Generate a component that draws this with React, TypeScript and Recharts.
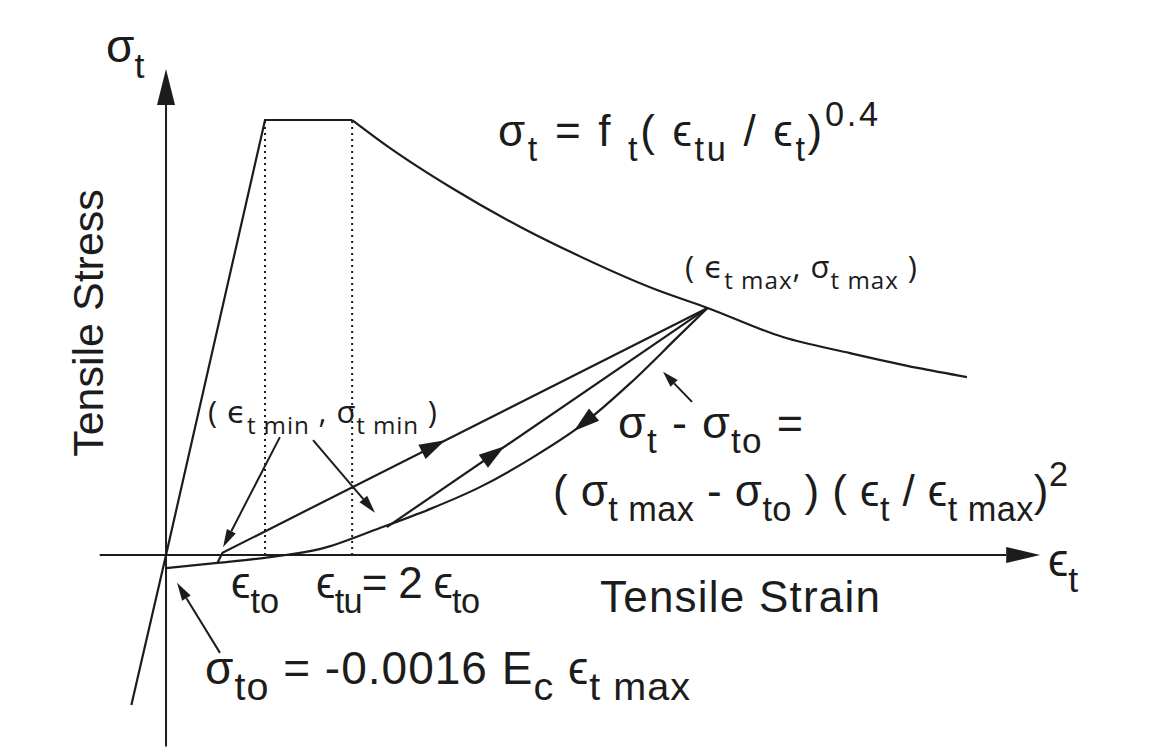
import { ComposedChart, Line, XAxis, YAxis, ReferenceLine } from "recharts"

// strain in units of eps_to, stress in units of f_t
const riseStrain = [-0.35, 0, 1.0, 1.88]
const riseStress = [-0.345, 0, 1.0, 1.0]

const decayStrain = [1.88, 2.26, 2.87, 3.58, 4.11, 4.96, 5.47, 6.23, 6.91, 7.59, 8.09]
const decayStress = [1.0, 0.936, 0.846, 0.754, 0.694, 0.609, 0.568, 0.501, 0.464, 0.43, 0.409]

const unloadStrain = [0, 0.52, 1.05, 1.56, 2.16, 2.67, 3.17, 3.68, 4.2, 4.69, 5.19, 5.47]
const unloadStress = [-0.03, -0.018, -0.005, 0.014, 0.062, 0.106, 0.156, 0.221, 0.299, 0.395, 0.506, 0.568]

const reloadStrain = [0.52, 0.57, 5.47]
const reloadStress = [-0.018, 0.005, 0.568]

const reload2Strain = [2.23, 5.47]
const reload2Stress = [0.064, 0.568]

const epsTo = 1.0
const epsTu = 1.88

const pts = (xs: number[], ys: number[]) => xs.map((x, i) => ({ x, y: ys[i] }))

const rise = pts(riseStrain, riseStress)
const decay = pts(decayStrain, decayStress)
const unload = pts(unloadStrain, unloadStress)
const reload = pts(reloadStrain, reloadStress)
const reload2 = pts(reload2Strain, reload2Stress)

const INK = "#1c1c1c"
const W = 1161
const H = 754
const SANS = "'Liberation Sans', Arial, sans-serif"
const LABEL = "'Open Sans', 'DejaVu Sans', sans-serif"

function Arrow(props: any) {
  const { x1, y1, x2, y2, head = 20, half = 6, body = true, width = 2 } = props
  const a = Math.atan2(y2 - y1, x2 - x1)
  const bx = x2 - head * Math.cos(a)
  const by = y2 - head * Math.sin(a)
  const px = -Math.sin(a) * half
  const py = Math.cos(a) * half
  return (
    <g>
      {body && <line x1={x1} y1={y1} x2={bx} y2={by} stroke={INK} strokeWidth={width} />}
      <polygon points={`${x2},${y2} ${bx + px},${by + py} ${bx - px},${by - py}`} fill={INK} />
    </g>
  )
}

type Part = [string, ("sub" | "sup")?]

function Rich({ x, y, size, parts, family = SANS, small = 0.78, span }: any) {
  let off = 0
  return (
    <text
      x={x}
      y={y}
      fontSize={size}
      fontFamily={family}
      fill={INK}
      textLength={span}
      lengthAdjust={span ? "spacing" : undefined}
      style={{ whiteSpace: "pre" }}
    >
      {(parts as Part[]).map(([t, k], i) => {
        const target = k === "sub" ? size * 0.34 : k === "sup" ? -size * 0.45 : 0
        const dy = target - off
        off = target
        return (
          <tspan key={i} dy={dy} fontSize={k ? size * small : size}>
            {t}
          </tspan>
        )
      })}
    </text>
  )
}

function Labels() {
  return (
    <svg width={W} height={H} style={{ position: "absolute", left: 0, top: 0, pointerEvents: "none" }}>
      <Rich x={106} y={62} size={46} parts={[["σ"], ["t", "sub"]]} />
      <text transform="translate(103,323) rotate(-90)" textAnchor="middle" fontSize={43} fontFamily={SANS} fill={INK}>
        Tensile Stress
      </text>
      <Rich
        x={498}
        y={146}
        size={44}
        span={380}
        parts={[["σ"], ["t", "sub"], [" = f "], ["t", "sub"], ["( "], ["ϵ"], ["tu", "sub"], [" / "], ["ϵ"], ["t", "sub"], [")"], ["0.4", "sup"]]}
      />
      <Rich
        x={685}
        y={278}
        size={31}
        span={232}
        family={LABEL}
        parts={[["( "], ["ϵ"], ["t max", "sub"], [", "], ["σ"], ["t max", "sub"], [" )"]]}
      />
      <Rich
        x={208}
        y={423}
        size={31}
        span={229}
        family={LABEL}
        parts={[["( "], ["ϵ"], ["t min", "sub"], [" , "], ["σ"], ["t min", "sub"], [" )"]]}
      />
      <Rich x={618} y={438} size={45} span={185} parts={[["σ"], ["t", "sub"], [" - "], ["σ"], ["to", "sub"], [" ="]]} />
      <Rich
        x={553}
        y={506}
        size={44}
        span={515}
        parts={[["( "], ["σ"], ["t max", "sub"], [" - "], ["σ"], ["to", "sub"], [" ) ( "], ["ϵ"], ["t", "sub"], [" / "], ["ϵ"], ["t max", "sub"], [")"], ["2", "sup"]]}
      />
      <Rich x={1048} y={576} size={46} parts={[["ϵ"], ["t", "sub"]]} />
      <Rich x={231} y={598} size={44} parts={[["ϵ"], ["to", "sub"]]} />
      <Rich x={316} y={598} size={44} span={164} parts={[["ϵ"], ["tu", "sub"], ["= 2 "], ["ϵ"], ["to", "sub"]]} />
      <text x={600} y={612} fontSize={44} fontFamily={SANS} fill={INK} textLength={280} lengthAdjust="spacing">
        Tensile Strain
      </text>
      <Rich
        x={205}
        y={684}
        size={46}
        small={0.86}
        span={485}
        parts={[["σ"], ["to", "sub"], [" = -0.0016 E"], ["c", "sub"], [" "], ["ϵ"], ["t max", "sub"]]}
      />
    </svg>
  )
}

const seg = (x1: number, y1: number, x2: number, y2: number) => [
  { x: x1, y: y1 },
  { x: x2, y: y2 },
]

const curve = (data: { x: number; y: number }[], type: "linear" | "monotone") => (
  <Line
    data={data}
    dataKey="y"
    type={type}
    stroke={INK}
    strokeWidth={2.2}
    dot={false}
    activeDot={false}
    legendType="none"
    isAnimationActive={false}
  />
)

export default function App() {
  return (
    <div style={{ position: "relative", width: W, height: H, background: "#fff" }}>
      <style>{"body{margin:0}"}</style>
      <ComposedChart width={W} height={H} margin={{ top: 0, right: 0, bottom: 0, left: 0 }}>
        <XAxis type="number" dataKey="x" domain={[-1.677, 10.05]} allowDataOverflow hide />
        <YAxis type="number" dataKey="y" domain={[-0.4575, 1.2759]} allowDataOverflow hide />

        {/* axes with arrowheads */}
        <ReferenceLine segment={seg(-0.67, 0, 8.83, 0)} ifOverflow="visible" shape={(p: any) => <Arrow {...p} head={34} half={8} />} />
        <ReferenceLine segment={seg(0, -0.44, 0, 1.117)} ifOverflow="visible" shape={(p: any) => <Arrow {...p} head={36} half={9} />} />

        {/* eps_to and eps_tu guides */}
        <ReferenceLine segment={seg(epsTo, 0, epsTo, 1)} ifOverflow="visible" stroke={INK} strokeWidth={2} strokeDasharray="2 4" />
        <ReferenceLine segment={seg(epsTu, 0, epsTu, 1)} ifOverflow="visible" stroke={INK} strokeWidth={2} strokeDasharray="2 4" />

        {curve(rise, "linear")}
        {curve(decay, "monotone")}
        {curve(unload, "monotone")}
        {curve(reload, "linear")}
        {curve(reload2, "linear")}

        {/* loading direction marks */}
        <ReferenceLine segment={seg(2.62, 0.241, 2.82, 0.264)} ifOverflow="visible" shape={(p: any) => <Arrow {...p} body={false} head={26} half={8} />} />
        <ReferenceLine segment={seg(3.22, 0.218, 3.42, 0.25)} ifOverflow="visible" shape={(p: any) => <Arrow {...p} body={false} head={26} half={8} />} />
        <ReferenceLine segment={seg(4.33, 0.324, 4.12, 0.285)} ifOverflow="visible" shape={(p: any) => <Arrow {...p} body={false} head={26} half={8} />} />

        {/* pointers */}
        <ReferenceLine segment={seg(1.15, 0.271, 0.576, 0.018)} ifOverflow="visible" shape={(p: any) => <Arrow {...p} head={18} half={5} />} />
        <ReferenceLine segment={seg(1.485, 0.264, 2.111, 0.097)} ifOverflow="visible" shape={(p: any) => <Arrow {...p} head={18} half={5} />} />
        <ReferenceLine segment={seg(5.313, 0.352, 5.02, 0.421)} ifOverflow="visible" shape={(p: any) => <Arrow {...p} head={16} half={5} />} />
        <ReferenceLine segment={seg(0.545, -0.225, 0.111, -0.064)} ifOverflow="visible" shape={(p: any) => <Arrow {...p} head={18} half={5} />} />
      </ComposedChart>
      <Labels />
    </div>
  )
}
